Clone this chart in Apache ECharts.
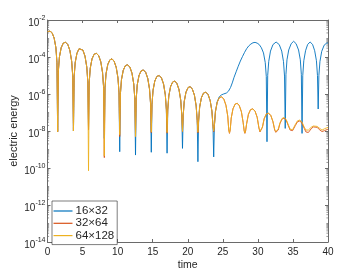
<!DOCTYPE html>
<html><head><meta charset="utf-8">
<script src="https://cdn.jsdelivr.net/npm/echarts@6/dist/echarts.min.js"></script>
<style>html,body{margin:0;padding:0;background:#fff}#c{width:363px;height:273px}</style>
</head><body><div id="c"></div>
<script>
// ---- data (values are log10 of electric energy) ----
const seriesNames = ['16\u00d732', '32\u00d764', '64\u00d7128'];
const xTickLabels = [0, 5, 10, 15, 20, 25, 30, 35, 40];
const yTickExponents = [-14, -12, -10, -8, -6, -4, -2];
const minorTickDecades = [-14, -13, -12, -11, -10, -9, -8, -7, -6, -5, -4, -3];
const minorTickMultipliers = [2, 3, 4, 5, 6, 7, 8, 9];

const timeEarly = [0, 0.34, 0.65, 0.95, 1.2, 1.35, 1.45,
  1.55, 1.7, 1.95, 2.25, 2.575, 2.9, 3.2, 3.45, 3.6, 3.7,
  3.8, 3.95, 4.2, 4.5, 4.775, 5.05, 5.35, 5.6, 5.75, 5.85,
  5.95, 6.1, 6.35, 6.65, 6.975, 7.3, 7.6, 7.85, 8.0, 8.1,
  8.2, 8.35, 8.6, 8.9, 9.2, 9.5, 9.8, 10.05, 10.2, 10.3,
  10.4, 10.55, 10.8, 11.1, 11.425, 11.75, 12.05, 12.3, 12.45, 12.55,
  12.65, 12.8, 13.05, 13.35, 13.675, 14.0, 14.3, 14.55, 14.7, 14.8,
  14.9, 15.05, 15.3, 15.6, 15.925, 16.25, 16.55, 16.8, 16.95, 17.05,
  17.15, 17.3, 17.55, 17.85, 18.15, 18.45, 18.75, 19.0, 19.15, 19.25,
  19.35, 19.5, 19.75, 20.05, 20.35, 20.65, 20.95, 21.2, 21.35, 21.45,
  21.55, 21.7, 21.95, 22.25, 22.575, 22.9, 23.2, 23.45, 23.6, 23.7];

const blueEarly = [-2.63, -2.6, -2.69, -2.98, -3.5, -4.3, -8.04,
  -4.76, -4.0, -3.5, -3.25, -3.2, -3.33, -3.66, -4.24, -5.04, -8.0,
  -5.06, -4.3, -3.8, -3.55, -3.5, -3.63, -3.96, -4.54, -5.34, -7.9,
  -5.36, -4.6, -4.1, -3.85, -3.8, -3.93, -4.26, -4.84, -5.64, -8.4,
  -5.66, -4.9, -4.4, -4.15, -4.1, -4.23, -4.56, -5.14, -5.94, -9.12,
  -5.98, -5.22, -4.72, -4.47, -4.42, -4.55, -4.88, -5.46, -6.26, -9.3,
  -6.26, -5.5, -5.0, -4.75, -4.7, -4.83, -5.16, -5.74, -6.54, -9.15,
  -6.56, -5.8, -5.3, -5.05, -5.0, -5.13, -5.46, -6.04, -6.84, -9.2,
  -6.86, -6.1, -5.6, -5.35, -5.3, -5.43, -5.76, -6.34, -7.14, -8.94,
  -7.16, -6.4, -5.9, -5.65, -5.6, -5.73, -6.06, -6.64, -7.44, -9.66,
  -7.46, -6.7, -6.2, -5.95, -5.9, -6.03, -6.36, -6.94, -7.74, -9.4];

const orangeEarly = [-2.63, -2.6, -2.69, -2.98, -3.5, -4.3, -8.04,
  -4.76, -4.0, -3.5, -3.25, -3.2, -3.33, -3.66, -4.24, -5.04, -8.0,
  -5.06, -4.3, -3.8, -3.55, -3.5, -3.63, -3.96, -4.54, -5.34, -7.95,
  -5.36, -4.6, -4.1, -3.85, -3.8, -3.93, -4.26, -4.84, -5.64, -9.44,
  -5.66, -4.9, -4.4, -4.15, -4.1, -4.23, -4.56, -5.14, -5.94, -8.3,
  -5.98, -5.22, -4.72, -4.47, -4.42, -4.55, -4.88, -5.46, -6.26, -8.3,
  -6.26, -5.5, -5.0, -4.75, -4.7, -4.83, -5.16, -5.74, -6.54, -8.09,
  -6.56, -5.8, -5.3, -5.05, -5.0, -5.13, -5.46, -6.04, -6.84, -8.12,
  -6.86, -6.1, -5.6, -5.35, -5.3, -5.43, -5.76, -6.34, -7.14, -8.04,
  -7.16, -6.4, -5.9, -5.65, -5.6, -5.73, -6.06, -6.64, -7.44, -8.1,
  -7.46, -6.7, -6.2, -5.95, -5.9, -6.03, -6.36, -6.94, -7.74, -8.04];

const yellowEarly = [-2.63, -2.6, -2.69, -2.98, -3.5, -4.3, -8.04,
  -4.76, -4.0, -3.5, -3.25, -3.2, -3.33, -3.66, -4.24, -5.04, -8.0,
  -5.06, -4.3, -3.8, -3.55, -3.5, -3.63, -3.96, -4.54, -5.34, -10.15,
  -5.36, -4.6, -4.1, -3.85, -3.8, -3.93, -4.26, -4.84, -5.64, -9.35,
  -5.66, -4.9, -4.4, -4.15, -4.1, -4.23, -4.56, -5.14, -5.94, -8.2,
  -5.98, -5.22, -4.72, -4.47, -4.42, -4.55, -4.88, -5.46, -6.26, -8.3,
  -6.26, -5.5, -5.0, -4.75, -4.7, -4.83, -5.16, -5.74, -6.54, -8.05,
  -6.56, -5.8, -5.3, -5.05, -5.0, -5.13, -5.46, -6.04, -6.84, -8.08,
  -6.86, -6.1, -5.6, -5.35, -5.3, -5.43, -5.76, -6.34, -7.14, -8.02,
  -7.16, -6.4, -5.9, -5.65, -5.6, -5.73, -6.06, -6.64, -7.44, -8.06,
  -7.46, -6.7, -6.2, -5.95, -5.9, -6.03, -6.36, -6.94, -7.74, -8.0];

const timeLate = [23.8, 23.95, 24.2, 24.5, 24.825, 25.15, 25.45, 25.7, 25.85, 25.95,
  26.05, 26.2, 26.45, 26.75, 27.05, 27.35, 27.65, 27.9, 28.05, 28.15,
  28.25, 28.4, 28.65, 28.95, 29.275, 29.6, 29.9, 30.15, 30.3, 30.4,
  30.5, 30.65, 30.9, 31.2, 31.525, 31.85, 32.15, 32.4, 32.55, 32.65,
  32.75, 32.9, 33.15, 33.45, 33.75, 34.05, 34.35, 34.6, 34.75, 34.85,
  34.95, 35.1, 35.35, 35.65, 35.975, 36.3, 36.6, 36.85, 37.0, 37.1,
  37.2, 37.35, 37.6, 37.9, 38.175, 38.45, 38.75, 39.0, 39.15, 39.25,
  39.5, 39.75, 40];

const orangeLate = [-7.71, -6.95, -6.45, -6.2, -6.15, -6.28, -6.61, -7.19, -7.95, -8.13,
  -7.95, -7.3, -6.8, -6.55, -6.5, -6.63, -6.96, -7.54, -8.0, -8.13,
  -8.0, -7.6, -7.1, -6.85, -6.8, -6.93, -7.26, -7.84, -8.05, -8.13,
  -8.05, -7.8, -7.34, -7.09, -7.04, -7.17, -7.5, -7.95, -8.07, -8.13,
  -8.06, -7.95, -7.6, -7.35, -7.3, -7.43, -7.72, -7.95, -8.0, -8.04,
  -7.98, -7.9, -7.7, -7.5, -7.46, -7.58, -7.85, -8.05, -8.1, -8.13,
  -8.08, -8.0, -7.88, -7.78, -7.76, -7.8, -7.92, -8.0, -8.03, -8.05,
  -7.98, -7.92, -7.9];

const yellowLate = [-7.71, -6.95, -6.45, -6.2, -6.15, -6.28, -6.61, -7.19, -7.95, -8.1,
  -7.95, -7.3, -6.8, -6.55, -6.5, -6.63, -6.96, -7.54, -7.98, -8.1,
  -7.98, -7.6, -7.1, -6.85, -6.8, -6.93, -7.26, -7.82, -8.02, -8.08,
  -8.02, -7.78, -7.33, -7.08, -7.03, -7.16, -7.48, -7.92, -8.03, -8.08,
  -8.02, -7.9, -7.56, -7.32, -7.27, -7.39, -7.67, -7.9, -7.95, -7.98,
  -7.93, -7.84, -7.64, -7.45, -7.41, -7.52, -7.78, -7.95, -7.98, -7.98,
  -7.95, -7.88, -7.8, -7.73, -7.72, -7.75, -7.84, -7.92, -7.95, -7.95,
  -7.88, -7.82, -7.8];

const timeBlueLate = [23.8, 23.95, 24.2, 24.5, 24.8, 25.1, 25.5, 25.8, 26.1, 26.35,
  26.6, 26.9, 27.2, 27.5, 27.8, 28.1, 28.4, 28.7, 29.0, 29.3,
  29.6, 29.9, 30.2, 30.5, 30.8, 31.05, 31.2, 31.3,
  31.4, 31.55, 31.8, 32.15, 32.6, 33.05, 33.4, 33.65, 33.8, 33.9,
  34.0, 34.15, 34.4, 34.75, 35.1, 35.45, 35.8, 36.05, 36.2, 36.3,
  36.4, 36.55, 36.8, 37.1, 37.45, 37.8, 38.1, 38.35, 38.5, 38.6,
  38.7, 38.85, 39.1, 39.45, 39.8, 40];

const blueLate = [-7.71, -6.95, -6.42, -6.15, -6.05, -6.0, -5.95, -5.85, -5.65, -5.4,
  -5.1, -4.8, -4.5, -4.22, -3.98, -3.75, -3.55, -3.4, -3.3, -3.23,
  -3.21, -3.25, -3.33, -3.5, -3.78, -4.3, -5.05, -8.58,
  -5.0, -4.24, -3.68, -3.33, -3.19, -3.33, -3.68, -4.24, -5.03, -7.86,
  -4.95, -4.15, -3.62, -3.28, -3.15, -3.28, -3.62, -4.15, -4.95, -8.13,
  -5.0, -4.2, -3.66, -3.32, -3.19, -3.32, -3.66, -4.2, -5.0, -6.81,
  -5.0, -4.25, -3.7, -3.36, -3.25, -3.24];

// ---- build library data ----
const pairs = (t, v) => t.map((x, i) => [x, v[i]]);
const blueData = pairs(timeEarly, blueEarly).concat(pairs(timeBlueLate, blueLate));
const orangeData = pairs(timeEarly, orangeEarly).concat(pairs(timeLate, orangeLate));
const yellowData = pairs(timeEarly, yellowEarly).concat(pairs(timeLate, yellowLate));
const minorTicks = [];
minorTickDecades.forEach(d => minorTickMultipliers.forEach(m => minorTicks.push([0, d + Math.log10(m)])));
minorTickDecades.filter(d => d % 2 !== 0).forEach(d => minorTicks.push([0, d]));

const colors = ['#0072BD', '#D95319', '#EDB120'];
const font = "'Liberation Sans', Arial, Helvetica, sans-serif";
const axisGray = '#6a6a6a';
const txt = '#262626';

const chart = echarts.init(document.getElementById('c'), null, {renderer: 'canvas'});
const lineAxis = {lineStyle: {color: axisGray, width: 1}};
chart.setOption({
  animation: false,
  backgroundColor: '#ffffff',
  grid: {left: 47.5, right: 35, top: 20, bottom: 31, containLabel: false, outerBoundsMode: 'none'},
  legend: {
    data: seriesNames, orient: 'vertical', left: 52, top: 201,
    icon: 'rect', itemWidth: 19, itemHeight: 1.2,
    padding: [4, 3, 3, 1.5], itemGap: 0.3,
    backgroundColor: '#fff', borderColor: '#262626', borderWidth: 0.6, borderRadius: 0,
    textStyle: {fontFamily: font, fontSize: 11.5, color: txt, lineHeight: 10, padding: [0, 0, 0, -2]}
  },
  xAxis: [{
    type: 'value', min: 0, max: 40, interval: 5, position: 'bottom',
    axisLine: Object.assign({show: true, onZero: false}, lineAxis),
    axisTick: {show: true, inside: true, length: 3, lineStyle: {color: axisGray, width: 1}},
    axisLabel: {fontFamily: font, fontSize: 10, color: txt, margin: 5,
      formatter: v => xTickLabels.includes(v) ? String(v) : ''},
    splitLine: {show: false},
    name: 'time', nameLocation: 'middle', nameGap: 17.5, nameMoveOverlap: false,
    nameTextStyle: {fontFamily: font, fontSize: 10.5, color: txt}
  }, {
    type: 'value', min: 0, max: 40, interval: 5, position: 'top',
    axisLine: Object.assign({show: true, onZero: false}, lineAxis),
    axisTick: {show: true, inside: true, length: 3, lineStyle: {color: axisGray, width: 1}},
    axisLabel: {show: false}, splitLine: {show: false}
  }],
  yAxis: [{
    type: 'value', min: -14, max: -2, interval: 2, position: 'left',
    axisLine: Object.assign({show: true, onZero: false}, lineAxis),
    axisTick: {show: true, inside: true, length: 3, lineStyle: {color: axisGray, width: 1}},
    axisLabel: {
      margin: 2, color: txt, fontFamily: font,
      formatter: v => yTickExponents.includes(v) ? '{b|10}{s|' + v + '}' : '',
      rich: {
        b: {fontFamily: font, fontSize: 10, color: txt, padding: [6, 0, 0, 0]},
        s: {fontFamily: font, fontSize: 7, color: txt, padding: [0, 0, 4, 0]}
      }
    },
    splitLine: {show: false},
    name: 'electric energy', nameLocation: 'middle', nameGap: 28.5, nameMoveOverlap: false,
    nameTextStyle: {fontFamily: font, fontSize: 11, color: txt}
  }, {
    type: 'value', min: -14, max: -2, interval: 2, position: 'right',
    axisLine: Object.assign({show: true, onZero: false}, lineAxis),
    axisTick: {show: true, inside: true, length: 3, lineStyle: {color: axisGray, width: 1}},
    axisLabel: {show: false}, splitLine: {show: false}
  }],
  series: [
    {name: seriesNames[0], type: 'line', data: blueData, showSymbol: false, symbol: 'none',
      lineStyle: {color: colors[0], width: 0.9}, itemStyle: {color: colors[0]}, z: 2},
    {name: seriesNames[1], type: 'line', data: orangeData, showSymbol: false, symbol: 'none',
      lineStyle: {color: colors[1], width: 0.9}, itemStyle: {color: colors[1]}, z: 3},
    {name: seriesNames[2], type: 'line', data: yellowData, showSymbol: false, symbol: 'none',
      lineStyle: {color: colors[2], width: 0.9}, itemStyle: {color: colors[2]}, z: 4},
    {name: 'minorTicks', type: 'custom', data: minorTicks, silent: true, clip: false, z: 1,
      renderItem: (params, api) => {
        const v = api.value(1);
        const pl = api.coord([0, v]);
        const pr = api.coord([40, v]);
        const st = {stroke: axisGray, lineWidth: 0.7};
        return {type: 'group', children: [
          {type: 'line', shape: {x1: pl[0], y1: pl[1], x2: pl[0] + 1.6, y2: pl[1]}, style: st},
          {type: 'line', shape: {x1: pr[0], y1: pr[1], x2: pr[0] - 1.6, y2: pr[1]}, style: st}
        ]};
      }}
  ]
});
</script></body></html>
